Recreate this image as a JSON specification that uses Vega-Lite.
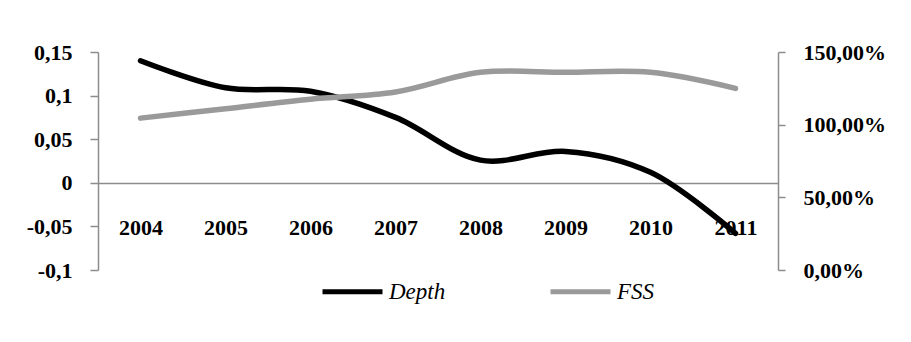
{
  "$schema": "https://vega.github.io/schema/vega-lite/v6.json",
  "width": 680,
  "height": 218,
  "autosize": {"type": "none"},
  "padding": {"left": 98, "top": 52, "right": 133, "bottom": 72},
  "background": "white",
  "config": {
    "view": {"stroke": null},
    "font": "Liberation Serif",
    "axis": {"labelFont": "Liberation Serif", "labelFontWeight": "bold", "labelFontSize": 22, "labelColor": "black", "domainColor": "#8c8c8c", "tickColor": "#8c8c8c", "domainWidth": 1.5, "tickWidth": 1.5, "grid": false, "title": null}
  },
  "data": {
    "values": [
      {"year": "2004", "series": "Depth", "value": 0.140},
      {"year": "2005", "series": "Depth", "value": 0.109},
      {"year": "2006", "series": "Depth", "value": 0.105},
      {"year": "2007", "series": "Depth", "value": 0.075},
      {"year": "2008", "series": "Depth", "value": 0.026},
      {"year": "2009", "series": "Depth", "value": 0.036},
      {"year": "2010", "series": "Depth", "value": 0.012},
      {"year": "2011", "series": "Depth", "value": -0.058},
      {"year": "2004", "series": "FSS", "value": 104.5},
      {"year": "2005", "series": "FSS", "value": 111},
      {"year": "2006", "series": "FSS", "value": 117.5},
      {"year": "2007", "series": "FSS", "value": 122.5},
      {"year": "2008", "series": "FSS", "value": 136},
      {"year": "2009", "series": "FSS", "value": 136},
      {"year": "2010", "series": "FSS", "value": 136},
      {"year": "2011", "series": "FSS", "value": 125}
    ]
  },
  "encoding": {
    "x": {"field": "year", "type": "ordinal", "scale": {"paddingInner": 0, "paddingOuter": 0},
      "axis": {"labelAngle": 0, "ticks": false, "offset": -87, "labelPadding": 34, "domainWidth": 1.5}},
    "color": {"field": "series", "type": "nominal",
      "scale": {"domain": ["Depth", "FSS"], "range": ["black", "#9a9a9a"]},
      "legend": {"title": null, "orient": "none", "legendX": 222, "legendY": 207, "direction": "horizontal",
        "symbolType": "stroke", "symbolSize": 3600, "symbolStrokeWidth": 5, "columnPadding": 94,
        "labelFont": "Liberation Serif", "labelFontStyle": "italic", "labelFontSize": 23, "labelColor": "black", "labelOffset": 4}}
  },
  "layer": [
    {
      "transform": [{"filter": "datum.series === 'Depth'"}],
      "mark": {"type": "line", "strokeWidth": 5.5, "interpolate": "catmull-rom", "strokeCap": "round"},
      "encoding": {
        "y": {"field": "value", "type": "quantitative", "scale": {"domain": [-0.1, 0.15], "nice": false, "zero": false},
          "axis": {"values": [-0.1, -0.05, 0, 0.05, 0.1, 0.15], "tickSize": 8, "labelPadding": 18,
            "labelExpr": "replace(datum.value + '', '.', ',')"}}
      }
    },
    {
      "transform": [{"filter": "datum.series === 'FSS'"}],
      "mark": {"type": "line", "strokeWidth": 5.5, "interpolate": "catmull-rom", "strokeCap": "round"},
      "encoding": {
        "y": {"field": "value", "type": "quantitative", "scale": {"domain": [0, 150], "nice": false},
          "axis": {"orient": "right", "values": [0, 50, 100, 150], "tickSize": 7, "labelPadding": 18,
            "labelExpr": "replace(format(datum.value, '.2f'), '.', ',') + '%'"}}
      }
    }
  ],
  "resolve": {"scale": {"y": "independent"}}
}
